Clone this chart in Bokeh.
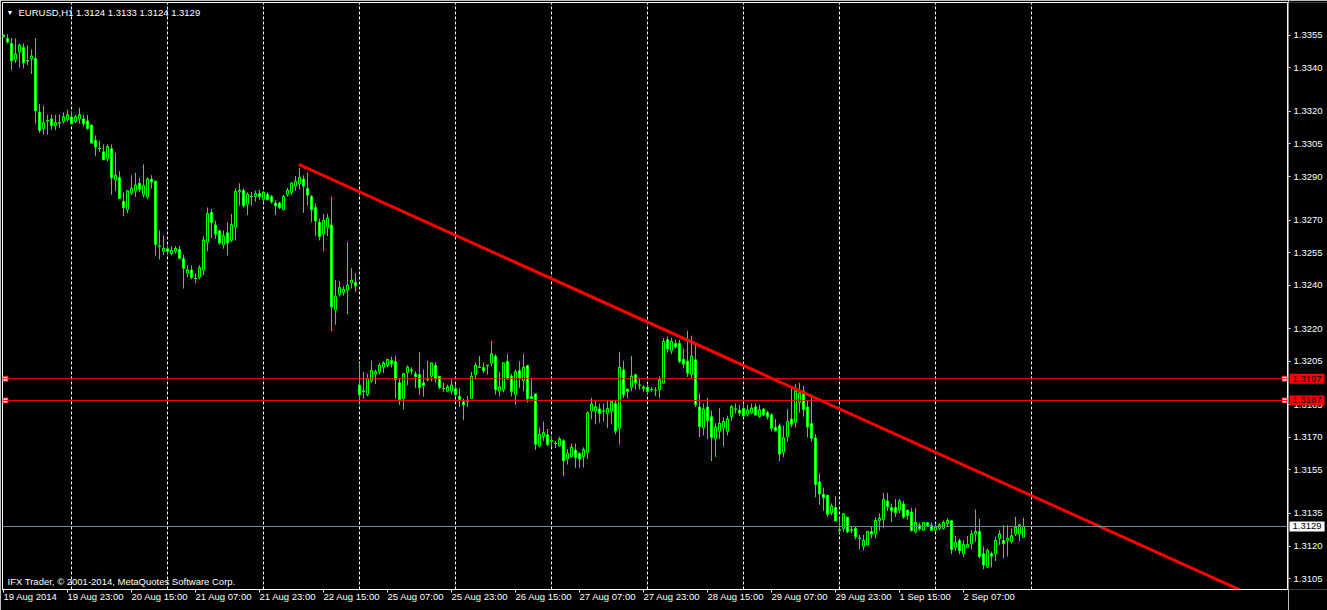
from bokeh.plotting import figure
from bokeh.layouts import row
from bokeh.models import (Range1d, FixedTicker, PrintfTickFormatter, Label, Span,
                          ColumnDataSource, LinearAxis)
from bokeh.embed import file_html
from bokeh.resources import INLINE

# ---------------- data (EURUSD H1, bar index 0 = 19 Aug 2014 07:00) ----------------
opens = [1.33550,1.33536,1.33512,1.33439,1.33474,1.33494,1.33433,1.33442,1.33444,1.33197,
1.33121,1.33157,1.33165,1.33135,1.33147,1.33153,1.33162,1.33174,1.33153,1.33165,
1.33165,1.33156,1.33137,1.33066,1.33029,1.33014,1.32982,1.33028,1.32885,1.32895,
1.32786,1.32748,1.32824,1.32833,1.32869,1.32816,1.32806,1.32888,1.32879,1.32580,
1.32556,1.32568,1.32546,1.32556,1.32565,1.32522,1.32455,1.32470,1.32431,1.32437,
1.32470,1.32598,1.32735,1.32677,1.32651,1.32586,1.32641,1.32606,1.32667,1.32830,
1.32836,1.32773,1.32808,1.32808,1.32821,1.32796,1.32818,1.32808,1.32778,1.32778,
1.32748,1.32818,1.32827,1.32857,1.32866,1.32888,1.32845,1.32808,1.32758,1.32690,
1.32636,1.32667,1.32677,1.32286,1.32358,1.32367,1.32377,1.32410,1.32413,1.31940,
1.31913,1.31897,1.31961,1.31991,1.32001,1.32022,1.32031,1.32053,1.32050,1.31951,
1.31879,1.31998,1.32008,1.31992,1.31989,1.31951,1.31965,1.31981,1.32031,1.31981,
1.31925,1.31913,1.31913,1.31925,1.31890,1.31864,1.31867,1.31879,1.31989,1.32022,
1.32022,1.32031,1.32041,1.32073,1.31913,1.31920,1.32050,1.31981,1.31897,1.32007,
1.31961,1.32031,1.31888,1.31900,1.31661,1.31704,1.31712,1.31684,1.31672,1.31661,
1.31684,1.31601,1.31611,1.31642,1.31626,1.31611,1.31631,1.31821,1.31821,1.31831,
1.31821,1.31810,1.31821,1.31855,1.31742,1.32010,1.31922,1.31931,1.31989,1.31940,
1.31925,1.31931,1.31920,1.31916,1.31920,1.31949,1.32149,1.32098,1.32132,1.32132,
1.32059,1.32050,1.31989,1.32057,1.31840,1.31745,1.31840,1.31795,1.31693,1.31728,
1.31743,1.31728,1.31795,1.31830,1.31825,1.31834,1.31804,1.31813,1.31840,1.31795,
1.31830,1.31814,1.31804,1.31746,1.31754,1.31632,1.31703,1.31784,1.31769,1.31860,
1.31913,1.31840,1.31764,1.31697,1.31495,1.31438,1.31434,1.31353,1.31377,1.31274,
1.31281,1.31332,1.31274,1.31281,1.31236,1.31198,1.31205,1.31266,1.31256,1.31316,
1.31322,1.31407,1.31377,1.31377,1.31365,1.31392,1.31365,1.31357,1.31266,1.31296,
1.31273,1.31307,1.31296,1.31273,1.31281,1.31281,1.31304,1.31316,1.31194,1.31225,
1.31164,1.31194,1.31212,1.31255,1.31266,1.31164,1.31103,1.31164,1.31164,1.31235,
1.31225,1.31225,1.31220,1.31255,1.31255,1.31240]

highs = [1.33555,1.33555,1.33536,1.33536,1.33512,1.33512,1.33504,1.33485,1.33536,1.33235,
1.33226,1.33185,1.33185,1.33185,1.33185,1.33195,1.33208,1.33198,1.33185,1.33217,
1.33185,1.33183,1.33137,1.33089,1.33064,1.33048,1.33048,1.33048,1.33009,1.32925,
1.32827,1.32834,1.32906,1.32918,1.32895,1.32956,1.32897,1.32906,1.32880,1.32652,
1.32629,1.32583,1.32580,1.32580,1.32580,1.32540,1.32492,1.32492,1.32454,1.32492,
1.32626,1.32758,1.32751,1.32697,1.32656,1.32652,1.32690,1.32728,1.32845,1.32869,
1.32845,1.32827,1.32830,1.32836,1.32839,1.32833,1.32827,1.32815,1.32790,1.32784,
1.32815,1.32848,1.32875,1.32903,1.32941,1.32906,1.32918,1.32815,1.32776,1.32705,
1.32728,1.32728,1.32808,1.32423,1.32419,1.32397,1.32598,1.32479,1.32454,1.32042,
1.32001,1.31992,1.32053,1.32012,1.32044,1.32050,1.32062,1.32071,1.32075,1.31972,
1.31992,1.32031,1.32022,1.32004,1.32092,1.32012,1.32053,1.32044,1.32044,1.31981,
1.31951,1.31943,1.31966,1.31943,1.31925,1.31879,1.31890,1.32001,1.32044,1.32074,
1.32044,1.32031,1.32144,1.32083,1.32001,1.32042,1.32083,1.31992,1.32012,1.32050,
1.32083,1.32031,1.31974,1.31900,1.31745,1.31773,1.31739,1.31707,1.31684,1.31703,
1.31692,1.31646,1.31672,1.31672,1.31631,1.31654,1.31821,1.31882,1.31867,1.31855,
1.31855,1.31870,1.31870,1.31870,1.32094,1.32052,1.31922,1.32074,1.31992,1.31974,
1.31940,1.31943,1.31931,1.31931,1.31981,1.32156,1.32164,1.32159,1.32149,1.32149,
1.32108,1.32190,1.32168,1.32132,1.31900,1.31856,1.31882,1.31823,1.31764,1.31834,
1.31792,1.31800,1.31849,1.31856,1.31849,1.31856,1.31849,1.31856,1.31856,1.31849,
1.31834,1.31823,1.31811,1.31784,1.31764,1.31754,1.31830,1.31929,1.31944,1.31951,
1.31936,1.31868,1.31898,1.31715,1.31532,1.31469,1.31434,1.31396,1.31430,1.31327,
1.31350,1.31335,1.31292,1.31292,1.31251,1.31251,1.31266,1.31289,1.31332,1.31350,
1.31444,1.31444,1.31395,1.31416,1.31416,1.31407,1.31368,1.31374,1.31374,1.31307,
1.31307,1.31307,1.31307,1.31296,1.31304,1.31317,1.31327,1.31317,1.31246,1.31234,
1.31225,1.31246,1.31273,1.31368,1.31325,1.31198,1.31188,1.31174,1.31243,1.31273,
1.31296,1.31296,1.31281,1.31334,1.31300,1.31330]

lows = [1.33540,1.33512,1.33390,1.33424,1.33402,1.33398,1.33413,1.33372,1.33144,1.33101,
1.33093,1.33093,1.33116,1.33113,1.33122,1.33144,1.33153,1.33141,1.33147,1.33144,
1.33131,1.33116,1.33055,1.32994,1.33013,1.32976,1.32971,1.32816,1.32833,1.32800,
1.32717,1.32732,1.32815,1.32806,1.32830,1.32804,1.32796,1.32845,1.32536,1.32519,
1.32538,1.32538,1.32538,1.32546,1.32520,1.32385,1.32437,1.32428,1.32409,1.32428,
1.32446,1.32556,1.32617,1.32613,1.32586,1.32568,1.32537,1.32598,1.32606,1.32766,
1.32758,1.32723,1.32766,1.32784,1.32793,1.32781,1.32789,1.32776,1.32723,1.32751,
1.32743,1.32808,1.32815,1.32834,1.32842,1.32733,1.32766,1.32690,1.32626,1.32606,
1.32556,1.32626,1.32189,1.32218,1.32347,1.32352,1.32266,1.32385,1.32370,1.31852,
1.31879,1.31890,1.31951,1.31946,1.31989,1.31996,1.32022,1.32022,1.31878,1.31850,
1.31829,1.31940,1.31989,1.31928,1.31897,1.31888,1.31958,1.31958,1.31951,1.31921,
1.31910,1.31910,1.31897,1.31888,1.31840,1.31779,1.31840,1.31879,1.31966,1.32019,
1.31996,1.31989,1.32027,1.31897,1.31888,1.31907,1.31966,1.31888,1.31850,1.31928,
1.31913,1.31860,1.31875,1.31642,1.31654,1.31684,1.31659,1.31660,1.31651,1.31657,
1.31522,1.31575,1.31605,1.31560,1.31560,1.31562,1.31600,1.31783,1.31760,1.31768,
1.31773,1.31742,1.31760,1.31714,1.31667,1.31880,1.31879,1.31913,1.31920,1.31920,
1.31910,1.31897,1.31910,1.31890,1.31882,1.31949,1.32090,1.32083,1.32108,1.32042,
1.32019,1.31978,1.31970,1.31840,1.31700,1.31709,1.31691,1.31591,1.31610,1.31693,
1.31658,1.31709,1.31776,1.31810,1.31799,1.31792,1.31795,1.31807,1.31799,1.31790,
1.31800,1.31782,1.31728,1.31728,1.31591,1.31610,1.31680,1.31746,1.31746,1.31814,
1.31795,1.31700,1.31680,1.31424,1.31390,1.31362,1.31334,1.31342,1.31314,1.31259,
1.31266,1.31259,1.31259,1.31230,1.31186,1.31180,1.31200,1.31236,1.31234,1.31271,
1.31281,1.31361,1.31311,1.31334,1.31350,1.31325,1.31322,1.31266,1.31258,1.31270,
1.31270,1.31292,1.31270,1.31266,1.31273,1.31276,1.31292,1.31162,1.31179,1.31162,
1.31149,1.31190,1.31185,1.31220,1.31142,1.31093,1.31099,1.31103,1.31131,1.31205,
1.31144,1.31152,1.31212,1.31246,1.31223,1.31240]

closes = [1.33544,1.33520,1.33433,1.33463,1.33504,1.33424,1.33433,1.33454,1.33204,1.33113,
1.33147,1.33157,1.33136,1.33147,1.33147,1.33174,1.33183,1.33144,1.33174,1.33183,
1.33144,1.33122,1.33055,1.33037,1.33029,1.32978,1.33037,1.32895,1.32906,1.32800,
1.32758,1.32834,1.32845,1.32860,1.32842,1.32857,1.32888,1.32876,1.32588,1.32580,
1.32568,1.32556,1.32559,1.32568,1.32525,1.32479,1.32470,1.32437,1.32431,1.32479,
1.32607,1.32728,1.32690,1.32636,1.32595,1.32626,1.32595,1.32677,1.32830,1.32836,
1.32766,1.32818,1.32808,1.32821,1.32808,1.32827,1.32796,1.32784,1.32766,1.32757,
1.32808,1.32836,1.32869,1.32878,1.32895,1.32857,1.32815,1.32748,1.32697,1.32626,
1.32697,1.32708,1.32301,1.32347,1.32388,1.32381,1.32400,1.32422,1.32397,1.31897,
1.31913,1.31970,1.32007,1.32001,1.32031,1.32041,1.32057,1.32041,1.31966,1.31875,
1.31992,1.32022,1.32010,1.31980,1.31931,1.31940,1.31970,1.32041,1.31970,1.31931,
1.31925,1.31931,1.31940,1.31897,1.31875,1.31852,1.31867,1.31981,1.32031,1.32022,
1.32007,1.32031,1.32083,1.31920,1.31931,1.32042,1.31970,1.31913,1.32001,1.31974,
1.32022,1.31879,1.31879,1.31669,1.31712,1.31721,1.31669,1.31684,1.31672,1.31692,
1.31593,1.31626,1.31654,1.31608,1.31601,1.31642,1.31812,1.31852,1.31840,1.31810,
1.31821,1.31831,1.31864,1.31730,1.32022,1.31897,1.31913,1.31981,1.31951,1.31940,
1.31931,1.31913,1.31920,1.31916,1.31964,1.32141,1.32108,1.32141,1.32117,1.32050,
1.32038,1.31996,1.32073,1.31852,1.31751,1.31829,1.31779,1.31700,1.31746,1.31764,
1.31773,1.31784,1.31840,1.31830,1.31813,1.31799,1.31825,1.31834,1.31804,1.31825,
1.31804,1.31795,1.31743,1.31731,1.31624,1.31697,1.31773,1.31761,1.31913,1.31901,
1.31830,1.31749,1.31697,1.31484,1.31441,1.31423,1.31347,1.31383,1.31316,1.31274,
1.31347,1.31266,1.31274,1.31243,1.31236,1.31225,1.31266,1.31256,1.31316,1.31327,
1.31413,1.31383,1.31362,1.31353,1.31407,1.31334,1.31342,1.31273,1.31307,1.31281,
1.31307,1.31296,1.31273,1.31286,1.31296,1.31307,1.31316,1.31185,1.31215,1.31179,
1.31205,1.31205,1.31255,1.31266,1.31152,1.31113,1.31179,1.31155,1.31225,1.31255,
1.31212,1.31235,1.31246,1.31286,1.31296,1.31290]

# time-axis labels (every 16 bars) and day separators (bar index of 00:00)
label_bars = [0, 16, 32, 48, 64, 80, 96, 112, 128, 144, 160, 176, 192, 208, 224, 240]
time_labels = ["19 Aug 2014", "19 Aug 23:00", "20 Aug 15:00", "21 Aug 07:00", "21 Aug 23:00",
               "22 Aug 15:00", "25 Aug 07:00", "25 Aug 23:00", "26 Aug 15:00", "27 Aug 07:00",
               "27 Aug 23:00", "28 Aug 15:00", "29 Aug 07:00", "29 Aug 23:00", "1 Sep 15:00",
               "2 Sep 07:00"]
day_start_bars = [17, 41, 65, 89, 113, 137, 161, 185, 209, 233, 257]
price_ticks = [1.3355, 1.3340, 1.3320, 1.3305, 1.3290, 1.3270, 1.3255, 1.3240, 1.3220,
               1.3205, 1.3185, 1.3170, 1.3155, 1.3135, 1.3120, 1.3105]

# objects on chart
trend_bars = [73.8, 186.3]
trend_prices = [1.32956, 1.32020]
hlines = [1.3197, 1.3187]
bid_price = 1.3129
symbol_title = "EURUSD,H1  1.3124 1.3133 1.3124 1.3129"
copyright_text = "IFX Trader, \u00a9 2001-2014, MetaQuotes Software Corp."

# ---------------- main chart ----------------
LIME = "#00FF00"
RED = "#FF0000"
FONT = "Liberation Sans"
FS = "9.5px"
x_lo, x_hi = -0.25, 321.0
y_lo, y_hi = 1.3100, 1.33701

p = figure(width=1288, height=610, output_backend="svg", toolbar_location=None,
           x_range=Range1d(x_lo, x_hi), y_range=Range1d(y_lo, y_hi),
           y_axis_location=None, background_fill_color="black",
           border_fill_color="black", outline_line_color="white",
           min_border_left=2, min_border_top=2, min_border_right=1, min_border_bottom=18)

p.xgrid.ticker = FixedTicker(ticks=day_start_bars)
p.xgrid.grid_line_color = "white"
p.xgrid.grid_line_dash = "3 2"
p.xgrid.grid_line_width = 1
p.ygrid.visible = False

xa = p.xaxis[0]
xa.ticker = FixedTicker(ticks=label_bars)
xa.major_label_overrides = {b: t for b, t in zip(label_bars, time_labels)}
xa.major_label_orientation = -0.0001   # numeric orientation -> labels start at the tick
xa.major_label_text_align = "left"
xa.major_label_text_color = "white"
xa.major_label_text_font = FONT
xa.major_label_text_font_size = FS
xa.major_label_standoff = 4
xa.axis_line_color = "white"
xa.major_tick_line_color = "white"
xa.major_tick_out = 3
xa.major_tick_in = 0
xa.minor_tick_line_color = None

# candles
idx = list(range(len(opens)))
src = ColumnDataSource(dict(
    x=idx, o=opens, h=highs, l=lows, c=closes,
    top=[max(o, c) for o, c in zip(opens, closes)],
    bottom=[min(o, c) for o, c in zip(opens, closes)],
    fill=["black" if c >= o else "white" for o, c in zip(opens, closes)],
))
p.segment(x0="x", y0="l", x1="x", y1="h", source=src, line_color=LIME, line_width=1)
p.vbar(x="x", width=0.5, top="top", bottom="bottom", fill_color="fill",
       line_color=LIME, line_width=1, source=src)
p.scatter(x="x", y="c", marker="dash", size=3, line_color=LIME, line_width=1, source=src)

# horizontal lines and bid line
for lv in hlines:
    p.add_layout(Span(location=lv, dimension="width", line_color=RED, line_width=1))
p.add_layout(Span(location=bid_price, dimension="width", line_color="#778899", line_width=1))
p.scatter(x=[0.5, 0.5, 320.25, 320.25], y=hlines + hlines, marker="square", size=5,
          fill_color="white", line_color=RED, line_width=1)

# trend line (ray from first anchor through second, clipped by the frame)
slope = (trend_prices[1] - trend_prices[0]) / (trend_bars[1] - trend_bars[0])
ray_end = 340.0
p.line([trend_bars[0], ray_end],
       [trend_prices[0], trend_prices[0] + slope * (ray_end - trend_bars[0])],
       line_color=RED, line_width=3)

# title and copyright inside the chart
p.add_layout(Label(x=x_lo, y=y_hi, x_offset=4, y_offset=-6, text="\u25bc",
                   text_color="white", text_font_size="7px", text_baseline="top"))
p.add_layout(Label(x=x_lo, y=y_hi, x_offset=16, y_offset=-4, text=symbol_title,
                   text_color="white", text_font=FONT, text_font_size=FS,
                   text_baseline="top"))
p.add_layout(Label(x=x_lo, y=y_lo, x_offset=5, y_offset=3, text=copyright_text,
                   text_color="white", text_font=FONT, text_font_size=FS,
                   text_baseline="bottom"))

# ---------------- price scale panel (shares the price range) ----------------
side = figure(width=39, height=610, output_backend="svg", toolbar_location=None,
              x_range=Range1d(0, 39), y_range=p.y_range,
              x_axis_location=None, y_axis_location=None,
              background_fill_color="black", border_fill_color="black",
              outline_line_color=None,
              min_border_left=0, min_border_top=2, min_border_right=0, min_border_bottom=18)
side.xgrid.visible = False
side.ygrid.visible = False

ya = LinearAxis(ticker=FixedTicker(ticks=price_ticks),
                formatter=PrintfTickFormatter(format="%.4f"), fixed_location=0)
ya.major_label_text_color = "white"
ya.major_label_text_font = FONT
ya.major_label_text_font_size = FS
ya.major_label_standoff = 3
ya.axis_line_color = None
ya.major_tick_line_color = "white"
ya.major_tick_out = 2
ya.major_tick_in = 0
ya.minor_tick_line_color = None
side.add_layout(ya, "right")

for lv in hlines:
    side.add_layout(Label(x=1, y=lv, text="%.4f" % lv, level="overlay",
                          text_color="black", text_font=FONT, text_font_size=FS,
                          text_baseline="middle", background_fill_color=RED,
                          padding=dict(left=3, right=3, top=2, bottom=2)))
side.add_layout(Label(x=1, y=bid_price, text="%.4f" % bid_price, level="overlay",
                      text_color="black", text_font=FONT, text_font_size=FS,
                      text_baseline="middle", background_fill_color="white",
                      padding=dict(left=3, right=3, top=2, bottom=2)))

layout = row(p, side, spacing=0)
open("out.html", "w").write(file_html(layout, INLINE))
